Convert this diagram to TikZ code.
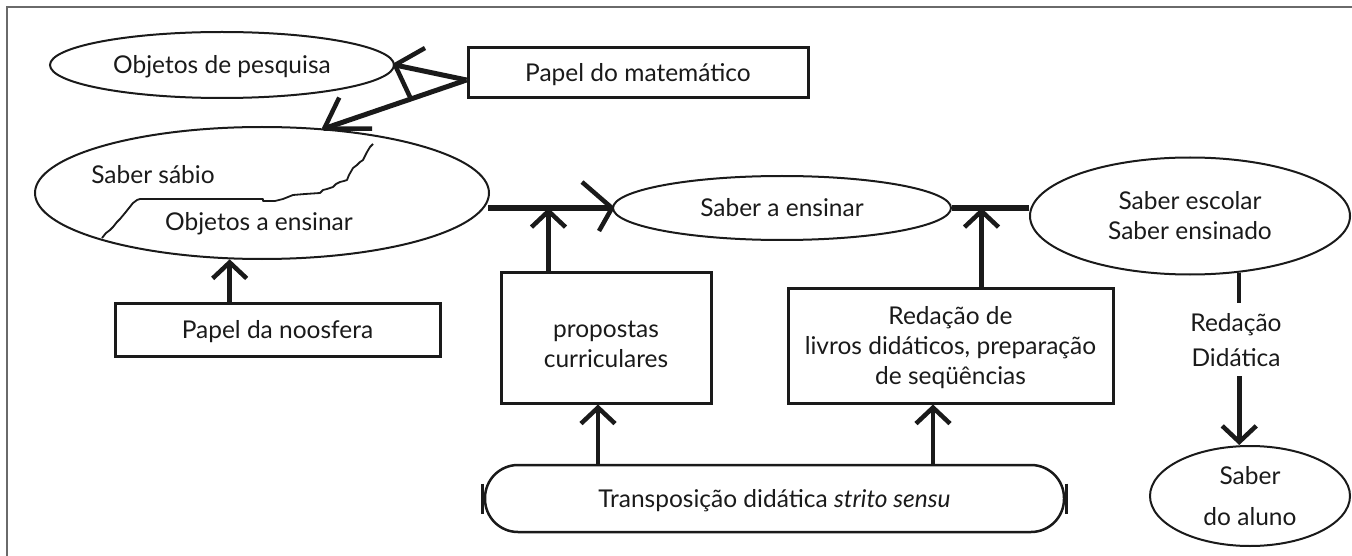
\documentclass[tikz,border=0pt]{standalone}
\usepackage{fontspec}
\setmainfont{Lato}
\usetikzlibrary{arrows.meta,shapes.geometric,calc}
\definecolor{ink}{HTML}{1A1A1A}
\definecolor{framegray}{HTML}{6A6A6A}
\begin{document}
\begin{tikzpicture}[x=1pt,y=-1pt,
  font=\fontsize{24.5}{30}\selectfont, color=ink,
  ell/.style={ellipse, draw, line width=2pt, inner sep=0pt, text height=18pt, text depth=0pt, align=center},
  bx/.style={rectangle, draw, line width=3pt, inner sep=0pt, text height=18pt, text depth=0pt, align=center},
  txt/.style={inner sep=0pt, text height=18pt, text depth=0pt, align=center},
  arr/.style={line width=4.5pt, -{Straight Barb[length=16pt,width=34pt]}},
  heavy/.style={line width=5.5pt},
  topline/.style={line width=5pt},
  barbline/.style={line width=4.5pt, line join=round},
  endbar/.style={line width=3pt}]
\useasboundingbox (0,0) rectangle (1352,556);
\clip (0,0) rectangle (1352,556);
\draw[framegray, line width=2pt] (7,7) rectangle (1420,620);

% nodes
\node[ell, minimum width=344pt, minimum height=66pt] (op) at (222,65) {Objetos de pesquisa};
\node[bx, minimum width=340pt, minimum height=50pt] (pm) at (638,73) {Papel do matemático};
\node[ell, minimum width=454pt, minimum height=132pt] (ss) at (262,193) {};
\node[txt] (ssa) at (153,175) {Saber sábio};
\node[txt] (ssb) at (259,221) {Objetos a ensinar};
\node[ell, minimum width=338pt, minimum height=64pt] (sae) at (782,208) {Saber a ensinar};
\node[ell, minimum width=320pt, minimum height=117pt, text height=48pt] (se) at (1190,216) {Saber escolar\\Saber ensinado};
\node[bx, minimum width=325pt, minimum height=53pt] (pn) at (277.5,329.5) {Papel da noosfera};
\node[bx, minimum width=210pt, minimum height=131pt, text height=59pt] (pp) at (606,337.5) {propostas\\curriculares};
\node[bx, minimum width=325pt, minimum height=115pt, text height=78pt] (rb) at (950.5,345.5) {Redação de\\livros didáticos, preparação\\de seqüências};
\node[draw, line width=2.5pt, rounded corners=33pt, minimum width=579pt, minimum height=67pt, inner sep=0pt, text height=18pt, text depth=0pt] (tb) at (774.5,498.5) {Transposição didática \textit{strito sensu}};
\node[txt, inner sep=10pt, text height=53pt, font=\fontsize{24.5}{35}\selectfont] (rd) at (1236,339.5) {Redação\\Didática};
\node[ell, minimum width=200pt, minimum height=100pt, text height=59pt, font=\fontsize{24.5}{41}\selectfont] (sa) at (1250,496) {Saber\\do aluno};

% jagged frontier inside Saber sábio
\draw[line width=1.8pt, line join=round]
  (102,238) -- (106,233) -- (110,230) -- (113,227) -- (117,222) -- (120,219) -- (125,213)
  -- (129,208) -- (133,203) -- (137,200) -- (140,199) -- (263,199) -- (263,201)
  -- (275,201) -- (283,199) -- (288,197) -- (293,195) -- (305,194) -- (320,193)
  -- (323,190) -- (327,189) -- (333,187) -- (336,184) -- (340,182) -- (344,181)
  -- (347,180) -- (349,175) -- (353,168) -- (357,165) -- (360,162) -- (363,160)
  -- (365,156) -- (367,152) -- (370,147) -- (373,144);

% Papel do matemático arrows
\coordinate (pmw) at ($(pm.west)+(0,7)$);
\draw[topline] (pmw) -- (op.east);
\draw[barbline] ($(op.east)+(30,-17)$) -- (op.east) -- ($(op.east)+(15,32)$);
\draw[topline] (pmw) -- (ss.46);
\draw[barbline] ($(ss.46)+(15,-31)$) -- (ss.46) -- ($(ss.46)+(48,0)$);

% noosfera -> saber sabio
\draw[arr] (pn.north -| ss.244) -- (ss.244);

% saber sabio -> saber a ensinar
\coordinate (a1) at ($(ss.east)+(-2,15)$);
\draw[heavy] (a1) -- (sae.west);
\draw[barbline] ($(sae.west)+(-30,-26)$) -- (sae.west) -- ($(sae.west)+(-13,23)$);

% saber a ensinar -- saber escolar
\draw[heavy] (sae.east) -- (sae.east -| se.west);

% boxes -> horizontal lines
\coordinate (ppt) at ($(pp.north west)+(49,0)$);
\draw[arr] (ppt) -- (ppt |- sae.west);
\coordinate (rbt) at ($(rb.north west)+(195,0)$);
\draw[arr] (rbt) -- (rbt |- sae.east);

% transposicao -> boxes
\coordinate (ppb) at ($(pp.south)+(-8,0)$);
\draw[arr] (ppb |- tb.north) -- (ppb);
\coordinate (rbb) at ($(rb.south)+(-17.5,0)$);
\draw[arr] (rbb |- tb.north) -- (rbb);

% end bars of transposicao
\draw[endbar] ($(tb.west)+(-1,-15)$) -- ($(tb.west)+(-1,15)$);
\draw[endbar] ($(tb.east)+(1,-15)$) -- ($(tb.east)+(1,15)$);

% saber escolar -> saber do aluno
\draw[line width=4pt] (se.-49) -- (se.-49 |- rd.north);
\draw[arr] (rd.south -| se.-49) -- (se.-49 |- sa.north);
\end{tikzpicture}
\end{document}
